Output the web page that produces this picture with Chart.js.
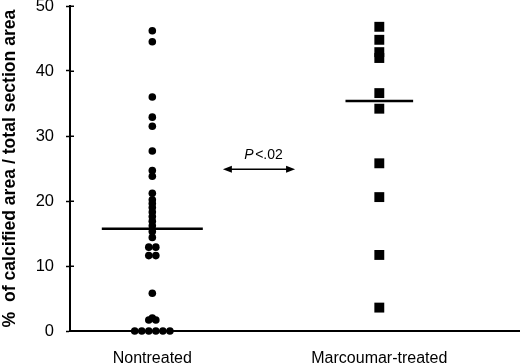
<!DOCTYPE html>
<html><head><meta charset="utf-8">
<script src="https://cdn.jsdelivr.net/npm/chart.js@4/dist/chart.umd.min.js"></script>
<style>html,body{margin:0;padding:0;background:#fff}#wrap{width:520px;height:364px;position:relative}</style>
</head><body><div id="wrap"><canvas id="c"></canvas></div>
<script>
// ---- data ----
const categories = ['Nontreated', 'Marcoumar-treated'];
const nontreated = [46.2, 44.5, 36.0, 32.9, 31.5, 27.7, 24.7, 23.8, 21.2,
  20.2, 19.6, 19.0, 18.3, 17.6, 16.9, 16.2, 15.3, 14.4,
  12.9, 12.9, 11.6, 11.6, 5.8, 2.0, 1.7, 1.7,
  0, 0, 0, 0, 0, 0];
const marcoumar = [46.8, 44.8, 42.9, 42.0, 36.6, 34.2, 25.8, 20.6, 11.7, 3.6];
const yTicks = [0, 10, 20, 30, 40, 50];
const yTitle = '%  of calcified area / total section area';
const pItalic = 'P';
const pRest = '<.02';

// ---- layout helpers (styling constants) ----
const DOT_SPACING = 0.031;           // horizontal spacing between tied values (x units)
const medianHalfWidth = [0.2225, 0.149];
const arrow = { x1: 1.311, x2: 1.629, y: 24.9, textX: 1.49, textY: 27.1 };
const FONT = "'Liberation Sans', Arial, sans-serif";

function median(a) {
  const s = [...a].sort((p, q) => p - q);
  const m = Math.floor(s.length / 2);
  return s.length % 2 ? s[m] : (s[m - 1] + s[m]) / 2;
}
function toPoints(values, center) {
  const groups = {};
  values.forEach(v => { (groups[v] = groups[v] || []).push(v); });
  const pts = [];
  Object.values(groups).forEach(g => {
    g.forEach((v, i) => pts.push({ x: center + (i - (g.length - 1) / 2) * DOT_SPACING, y: v }));
  });
  return pts;
}
function medianLine(values, center, hw) {
  const m = median(values);
  return [{ x: center - hw, y: m }, { x: center + hw, y: m }];
}

const arrowPlugin = {
  id: 'pArrow',
  afterDatasetsDraw(chart) {
    const { ctx, scales: { x, y } } = chart;
    const x1 = x.getPixelForValue(arrow.x1), x2 = x.getPixelForValue(arrow.x2);
    const yy = y.getPixelForValue(arrow.y);
    ctx.save();
    ctx.strokeStyle = '#000'; ctx.fillStyle = '#000'; ctx.lineWidth = 1.5;
    ctx.beginPath(); ctx.moveTo(x1 + 4, yy); ctx.lineTo(x2 - 4, yy); ctx.stroke();
    const ah = 9, aw = 3.5;
    ctx.beginPath(); ctx.moveTo(x1, yy); ctx.lineTo(x1 + ah, yy - aw); ctx.lineTo(x1 + ah, yy + aw); ctx.closePath(); ctx.fill();
    ctx.beginPath(); ctx.moveTo(x2, yy); ctx.lineTo(x2 - ah, yy - aw); ctx.lineTo(x2 - ah, yy + aw); ctx.closePath(); ctx.fill();
    const tx = x.getPixelForValue(arrow.textX), ty = y.getPixelForValue(arrow.textY);
    ctx.textBaseline = 'middle';
    ctx.font = 'italic 14px ' + FONT;
    const w1 = ctx.measureText(pItalic).width;
    ctx.font = '14px ' + FONT;
    const w2 = ctx.measureText(pRest).width;
    const gap = 1.5;
    const start = tx - (w1 + gap + w2) / 2;
    ctx.textAlign = 'left';
    ctx.font = 'italic 14px ' + FONT;
    ctx.fillText(pItalic, start, ty);
    ctx.font = '14px ' + FONT;
    ctx.fillText(pRest, start + w1 + gap, ty);
    ctx.restore();
  }
};

// small tick marks crossing the y-axis line (as in the reference)
const yTickCross = {
  id: 'yTickCross',
  afterDraw(chart) {
    const { ctx, scales: { y } } = chart;
    ctx.save();
    ctx.strokeStyle = '#000'; ctx.lineWidth = 1.5;
    y.ticks.forEach(t => {
      const py = Math.round(y.getPixelForValue(t.value)) + 0.25;
      ctx.beginPath(); ctx.moveTo(y.right, py); ctx.lineTo(y.right + 4, py); ctx.stroke();
    });
    ctx.restore();
  }
};

new Chart(document.getElementById('c'), {
  type: 'scatter',
  data: {
    datasets: [
      { label: categories[0], data: toPoints(nontreated, 1), pointStyle: 'circle', pointRadius: 3.8,
        backgroundColor: '#000', borderWidth: 0, clip: false },
      { label: categories[1], data: toPoints(marcoumar, 2), pointStyle: 'rect', pointRadius: 7,
        backgroundColor: '#000', borderWidth: 0, clip: false },
      { type: 'line', label: 'm1', data: medianLine(nontreated, 1, medianHalfWidth[0]), borderColor: '#000',
        borderWidth: 2.5, pointRadius: 0, fill: false },
      { type: 'line', label: 'm2', data: medianLine(marcoumar, 2, medianHalfWidth[1]), borderColor: '#000',
        borderWidth: 2.5, pointRadius: 0, fill: false }
    ]
  },
  options: {
    responsive: true, maintainAspectRatio: false, animation: false, devicePixelRatio: 1,
    layout: { autoPadding: false, padding: { top: 6, right: 0, left: 0, bottom: 0 } },
    plugins: { legend: { display: false }, tooltip: { enabled: false } },
    scales: {
      x: {
        type: 'linear', min: 0.6374, max: 2.6198,
        afterBuildTicks: s => { s.ticks = categories.map((c, i) => ({ value: i + 1 })); },
        afterFit: s => { s.height = 33; s.paddingLeft = 0; s.paddingRight = 0; },
        grid: { display: false },
        border: { display: true, color: '#000', width: 2 },
        ticks: { color: '#000', font: { family: FONT, size: 16 }, padding: 10,
          callback: v => categories[Math.round(v) - 1] }
      },
      y: {
        type: 'linear', min: 0, max: 50,
        afterBuildTicks: s => { s.ticks = yTicks.map(v => ({ value: v })); },
        afterFit: s => { s.width = 70; s.paddingTop = 0; s.paddingBottom = 0; },
        grid: { display: true, drawOnChartArea: false, drawTicks: true, tickLength: 4, color: '#000', tickWidth: 1.5 },
        border: { display: true, color: '#000', width: 2 },
        ticks: { color: '#000', font: { family: FONT, size: 16.5, lineHeight: 0.8 }, padding: 12 },
        title: { display: true, text: yTitle, color: '#000', padding: { top: 0, bottom: 0 },
          font: { family: FONT, size: 17.6, weight: 'bold' } }
      }
    }
  },
  plugins: [arrowPlugin, yTickCross]
});
</script>
</body></html>
